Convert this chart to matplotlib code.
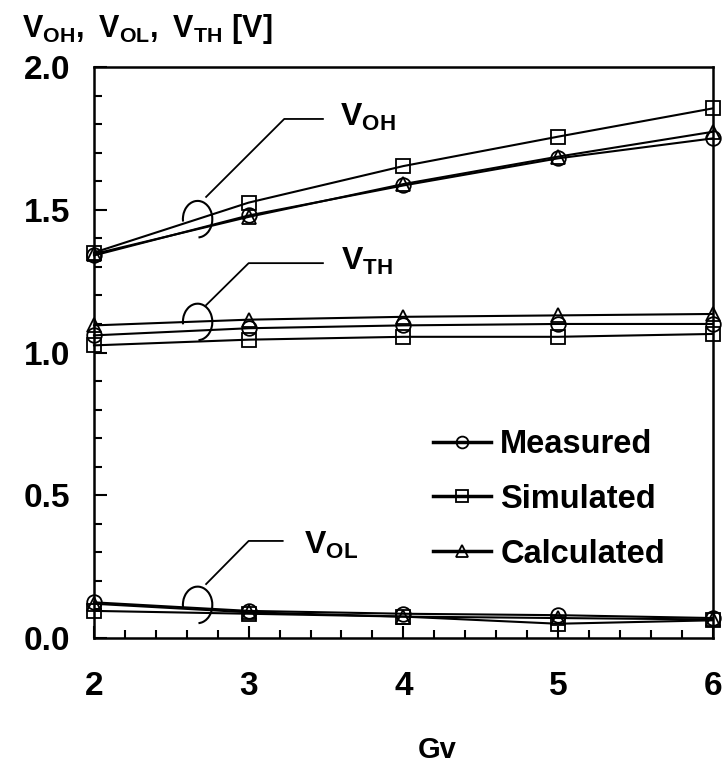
import matplotlib
matplotlib.use('Agg')
import matplotlib.pyplot as plt
from matplotlib.patches import Arc
from matplotlib.lines import Line2D
from matplotlib.ticker import MultipleLocator

plt.rcParams['font.family'] = ['Liberation Sans', 'DejaVu Sans']
plt.rcParams['font.weight'] = 'bold'
plt.rcParams['mathtext.fontset'] = 'custom'
plt.rcParams['mathtext.rm'] = 'Liberation Sans:bold'
plt.rcParams['mathtext.bf'] = 'Liberation Sans:bold'
plt.rcParams['mathtext.it'] = 'Liberation Sans:bold'

# data
gv = [2, 3, 4, 5, 6]

voh_measured = [1.34, 1.48, 1.585, 1.68, 1.75]
voh_simulated = [1.35, 1.525, 1.653, 1.756, 1.855]
voh_calculated = [1.345, 1.475, 1.59, 1.686, 1.773]

vth_measured = [1.06, 1.085, 1.095, 1.10, 1.10]
vth_simulated = [1.025, 1.045, 1.055, 1.055, 1.065]
vth_calculated = [1.095, 1.115, 1.125, 1.13, 1.135]

vol_measured = [0.125, 0.095, 0.085, 0.08, 0.07]
vol_simulated = [0.095, 0.085, 0.075, 0.05, 0.062]
vol_calculated = [0.12, 0.09, 0.075, 0.07, 0.065]

series = [
    ('Measured', 'o', [voh_measured, vth_measured, vol_measured]),
    ('Simulated', 's', [voh_simulated, vth_simulated, vol_simulated]),
    ('Calculated', '^', [voh_calculated, vth_calculated, vol_calculated]),
]

fig = plt.figure(figsize=(7.24, 7.64), dpi=100)
ax = fig.add_axes([0.1298, 0.1649, 0.9844 - 0.1298, 0.9123 - 0.1649])

for name, mk, groups in series:
    for vals in groups:
        ax.plot(gv, vals, color='black', linewidth=1.5, marker=mk,
                markersize=10.5, markerfacecolor='none',
                markeredgecolor='black', markeredgewidth=1.3, clip_on=False)

ax.set_xlim(2, 6)
ax.set_ylim(0, 2.0)
ax.xaxis.set_major_locator(MultipleLocator(1))
ax.xaxis.set_minor_locator(MultipleLocator(0.2))
ax.yaxis.set_major_locator(MultipleLocator(0.5))
ax.yaxis.set_minor_locator(MultipleLocator(0.1))
ax.set_yticks([0, 0.5, 1.0, 1.5, 2.0])
ax.set_yticklabels(['0.0', '0.5', '1.0', '1.5', '2.0'])
ax.tick_params(which='both', direction='in', width=1.5, labelsize=24)
ax.tick_params(which='major', length=9)
ax.tick_params(which='minor', length=6)
ax.tick_params(axis='x', which='major', pad=24)
ax.tick_params(axis='y', which='major', pad=17)
ax.tick_params(top=False, right=False, which='both')
for lbl in ax.get_xticklabels() + ax.get_yticklabels():
    lbl.set_fontweight('bold')
for sp in ax.spines.values():
    sp.set_linewidth(1.8)

# brackets and leaders
arc_x = 2.67
brackets = [
    (1.467, r'$\mathbf{V}_{\mathbf{OH}}$', (2.725, 1.545), (3.23, 1.818), 3.48, 3.59, 1.823),
    (1.107, r'$\mathbf{V}_{\mathbf{TH}}$', (2.725, 1.166), (3.0, 1.313), 3.48, 3.60, 1.318),
    (0.116, r'$\mathbf{V}_{\mathbf{OL}}$', (2.725, 0.189), (3.0, 0.34), 3.22, 3.36, 0.325),
]
for yc, txt, p0, p1, xend, xtxt, ytxt in brackets:
    ax.add_patch(Arc((arc_x, yc), 0.19, 0.128, theta1=-85, theta2=185,
                     color='black', linewidth=1.5))
    ax.plot([p0[0], p1[0], xend], [p0[1], p1[1], p1[1]], color='black',
            linewidth=1.3)
    ax.text(xtxt, ytxt, txt, fontsize=23, va='center', ha='left')

handles = [Line2D([], [], color='black', linewidth=2.5, marker=mk,
                  markersize=8.5, markerfacecolor='none',
                  markeredgecolor='black', markeredgewidth=1.3)
           for _, mk, _ in series]
ax.legend(handles, [s[0] for s in series], loc='upper left',
          bbox_to_anchor=(0.548, 0.366), frameon=False, handlelength=1.78,
          handletextpad=0.28, labelspacing=0.73, borderpad=0,
          borderaxespad=0, prop={'size': 23.5, 'weight': 'bold'})

fig.text(0.03, 0.962, r'$\mathbf{V}_{\mathbf{OH}}\mathbf{,\ V}_{\mathbf{OL}}\mathbf{,\ V}_{\mathbf{TH}}\mathbf{\ [V]}$',
         fontsize=22, ha='left', va='center')
fig.text(0.604, 0.018, 'Gv', fontsize=21, fontweight='bold', ha='center',
         va='center')

fig.savefig('out.png', dpi=100)
